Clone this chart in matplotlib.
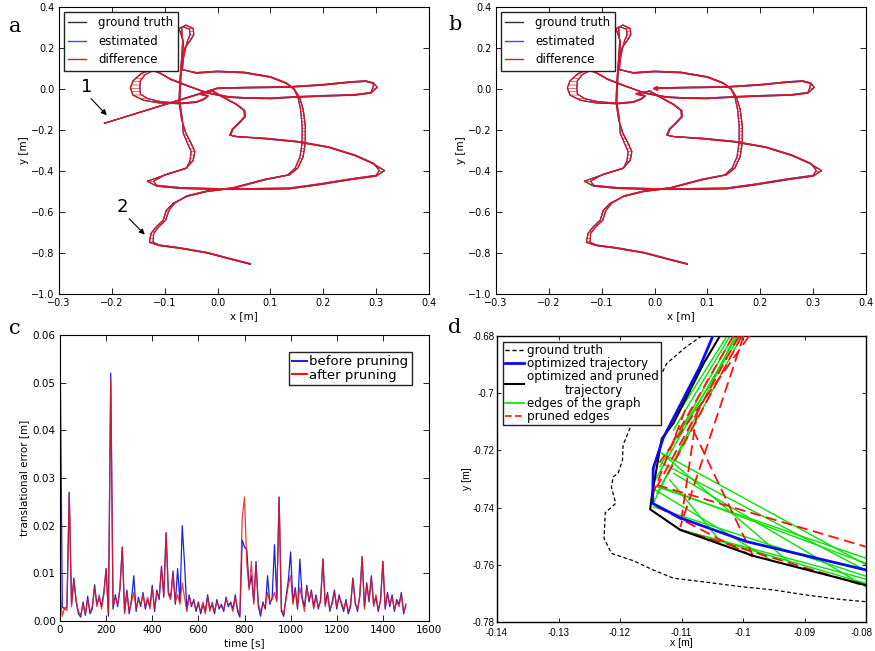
"""
Trajectoire estimee vs verite terrain, erreur de translation et detail de l'elagage du graphe.
Sortie : out.png
"""
import numpy as np
import matplotlib
matplotlib.use("Agg")
import matplotlib.pyplot as plt
import matplotlib.transforms as mtransforms
from matplotlib.patches import Polygon
from matplotlib.lines import Line2D

# %% donnees panneaux a/b : verite terrain (points de passage, m)
gt_x = [0.000, 0.050, 0.100, 0.140, 0.200, 0.250, 0.280, 0.295, 0.302,
        0.290, 0.260, 0.200, 0.150, 0.100, 0.050, 0.020, -0.020, -0.060, -0.090, -0.110, -0.125,
        -0.145, -0.160, -0.165, -0.160, -0.140, -0.110, -0.070, -0.040, -0.025, -0.018, -0.035,
        -0.010, 0.010, 0.035, 0.050, 0.051, 0.040, 0.028, 0.023, 0.035,
        0.090, 0.150, 0.210, 0.260, 0.295, 0.316,
        0.300, 0.250, 0.190, 0.136, 0.060, 0.000, -0.070, -0.115, -0.133,
        -0.100, -0.060, -0.046, -0.043, -0.050, -0.060, -0.068, -0.073, -0.071, -0.068, -0.066,
        -0.068, -0.060, -0.046, -0.045, -0.052, -0.062, -0.066, -0.068,
        -0.040, 0.000, 0.050, 0.100, 0.130, 0.145,
        0.155, 0.162, 0.166, 0.166, 0.162, 0.152, 0.136,
        0.090, 0.030, -0.020, -0.058, -0.084, -0.097, -0.103, -0.116, -0.126, -0.129,
        -0.110, -0.072, -0.020, 0.030, 0.062]
gt_y = [0.005, 0.008, 0.010, 0.012, 0.022, 0.035, 0.040, 0.030, 0.008,
        -0.020, -0.030, -0.035, -0.040, -0.047, -0.045, -0.040, -0.020, 0.020, 0.050, 0.080, 0.095,
        0.075, 0.040, 0.005, -0.030, -0.055, -0.068, -0.072, -0.065, -0.050, -0.035, -0.025,
        -0.010, -0.040, -0.075, -0.105, -0.135, -0.165, -0.195, -0.225, -0.232,
        -0.243, -0.258, -0.285, -0.325, -0.365, -0.398,
        -0.425, -0.443, -0.468, -0.487, -0.490, -0.490, -0.485, -0.474, -0.450,
        -0.420, -0.388, -0.348, -0.305, -0.265, -0.215, -0.150, -0.060, 0.050, 0.150, 0.230,
        0.300, 0.312, 0.295, 0.265, 0.235, 0.200, 0.150, 0.095,
        0.080, 0.087, 0.082, 0.060, 0.030, 0.000,
        -0.040, -0.100, -0.180, -0.260, -0.330, -0.385, -0.419,
        -0.443, -0.484, -0.500, -0.524, -0.557, -0.592, -0.640, -0.672, -0.705, -0.748,
        -0.764, -0.777, -0.800, -0.834, -0.855]
# ecart estime - verite (m)
est_dx = [0, 0, 0, 0, 0, 0, 0, 0, -0.008,
          0, 0, 0, 0, 0, 0, 0, 0, 0.0015, 0.0015, 0.0015, 0.003,
          0.008, 0.014, 0.018, 0.014, 0.008, 0.003, 0, 0, 0, 0, 0,
          0.0015, 0.0015, 0.0015, 0.0015, 0.0015, 0.0015, 0.0015, 0.0015, 0.0015,
          0, 0, 0, 0, 0, -0.010,
          0, 0, 0, 0, 0, 0, 0, 0, 0.012,
          0.0015, 0.0015, -0.006, -0.007, -0.007, -0.005, 0.0015, 0.0015, 0.0015, 0.0015, 0.0015,
          -0.005, -0.005, -0.007, -0.007, -0.005, 0.0015, 0.0015, 0.0015,
          0, 0, 0, 0, 0, 0,
          -0.003, -0.005, -0.006, -0.006, -0.006, -0.005, -0.003,
          0, 0, 0, 0, 0.003, 0.005, 0.005, 0.005, 0.005, 0.007,
          0, 0, 0, 0, 0]
est_dy = [-0.003, -0.003, -0.003, -0.003, -0.003, -0.003, -0.003, -0.003, 0,
          0.003, 0.003, 0.003, 0.003, 0.003, 0.003, 0.003, 0.003, -0.004, -0.004, -0.004, -0.005,
          -0.005, 0, 0, 0.005, 0.008, 0.006, 0.003, 0.003, 0.003, 0.003, 0.003,
          0, 0, 0, 0, 0, 0, 0, 0, 0,
          0.003, 0.003, 0.003, 0.003, 0.003, 0,
          0.004, 0.004, 0.004, 0.004, 0.004, 0.004, 0.004, 0.004, 0,
          0.003, 0.003, 0, 0, 0, 0, 0, 0, 0, 0, 0,
          -0.005, -0.008, -0.004, 0, 0, 0, 0, 0,
          -0.003, -0.003, -0.003, -0.003, -0.003, -0.003,
          0, 0, 0, 0, 0, 0, 0,
          0.003, 0.003, 0.003, 0.003, 0, 0, 0, 0, 0, 0,
          0.003, 0.003, 0.003, 0.003, 0.003]
outlier_start = (-0.214, -0.167)   # fausse fermeture de boucle (panneau a)

# %% donnees panneau c : erreur de translation (mm), un point toutes les 10 s
time_step_s = 10
err_before_mm = [61, 3.0, 2.5, 3.0, 27.0, 3.5, 9.0, 4.0, 1.5, 0.8,
                 4.0, 1.2, 5.2, 1.5, 2.5, 7.6, 3.5, 5.0, 3.0, 6.0,
                 11.0, 1.0, 52.0, 2.5, 5.5, 3.0, 7.0, 15.5, 2.0, 6.5,
                 1.5, 4.5, 9.5, 2.0, 5.0, 3.0, 6.0, 2.5, 4.5, 3.0,
                 7.5, 2.0, 6.5, 4.5, 11.5, 5.0, 18.5, 6.0, 5.0, 10.5,
                 3.5, 11.0, 4.0, 20.0, 12.0, 2.5, 5.5, 3.0, 4.5, 2.0,
                 4.0, 1.5, 3.5, 2.0, 5.5, 2.5, 3.5, 1.5, 4.5, 2.5,
                 3.5, 2.0, 5.0, 3.0, 4.0, 2.5, 5.5, 2.0, 0.8, 17.0,
                 15.5, 15.0, 7.0, 9.5, 4.0, 12.5, 3.0, 1.0, 4.0, 2.5,
                 9.5, 3.5, 5.0, 16.0, 4.5, 26.0, 2.0, 1.0, 5.0, 8.5,
                 14.5, 4.0, 7.0, 2.5, 13.0, 5.0, 3.0, 7.5, 4.0, 6.5,
                 3.0, 5.5, 2.5, 4.5, 13.0, 3.5, 6.0, 2.0, 4.0, 6.5,
                 2.5, 5.5, 3.5, 2.0, 4.5, 1.5, 3.0, 9.0, 4.0, 2.0,
                 5.5, 13.5, 3.0, 8.0, 4.0, 9.5, 3.5, 5.0, 2.0, 4.5,
                 12.5, 2.5, 6.0, 3.0, 5.5, 2.0, 4.5, 3.5, 6.0, 1.5,
                 3.5]
err_after_mm = [6.0, 1.0, 2.8, 2.2, 27.0, 3.0, 8.5, 4.5, 2.0, 1.2,
                3.5, 1.5, 4.5, 2.0, 3.0, 7.0, 3.0, 5.5, 2.5, 5.5,
                11.0, 1.5, 50.5, 3.0, 5.0, 3.5, 6.5, 15.5, 1.5, 6.0,
                2.0, 4.0, 6.0, 2.5, 4.5, 3.5, 5.5, 3.0, 5.0, 2.5,
                7.0, 2.5, 6.0, 5.0, 11.0, 5.5, 18.5, 5.5, 4.5, 10.0,
                4.0, 5.5, 3.5, 8.0, 5.0, 2.0, 5.0, 3.5, 4.0, 2.5,
                3.5, 2.0, 4.0, 1.5, 5.0, 2.0, 4.0, 2.0, 4.0, 3.0,
                3.0, 2.5, 4.5, 3.5, 3.5, 2.0, 5.0, 2.5, 1.5, 21.5,
                26.0, 12.0, 6.5, 12.5, 3.5, 11.5, 3.5, 2.0, 3.5, 3.0,
                6.0, 4.0, 4.5, 6.0, 4.0, 26.0, 2.5, 1.5, 4.5, 7.5,
                9.5, 3.5, 6.5, 3.0, 7.0, 4.5, 2.0, 7.0, 4.5, 6.0,
                2.5, 5.0, 3.0, 4.0, 13.0, 3.0, 5.5, 2.5, 3.5, 6.0,
                3.0, 5.0, 4.0, 2.5, 4.0, 2.0, 3.5, 9.0, 3.5, 2.5,
                5.0, 13.5, 2.5, 7.5, 4.5, 9.0, 3.0, 5.5, 2.5, 4.0,
                12.5, 3.0, 5.5, 3.5, 5.0, 2.5, 4.0, 3.0, 5.5, 2.0,
                3.0]

# %% donnees panneau d : zoom sur le coin "2"
truth_d_x = [-0.1040, -0.1067, -0.1092, -0.1124, -0.1132, -0.1168, -0.1176, -0.1195, -0.1196,
             -0.1203, -0.1211, -0.1214, -0.1207, -0.1224, -0.1225, -0.1226, -0.1214, -0.1178,
             -0.1146, -0.1113, -0.1059, -0.1005, -0.0950, -0.0896, -0.0842, -0.0800, -0.0780]
truth_d_y = [-0.6770, -0.6800, -0.6837, -0.6896, -0.6931, -0.7047, -0.7082, -0.7181, -0.7234,
             -0.7280, -0.7292, -0.7327, -0.7385, -0.7418, -0.7467, -0.7507, -0.7560, -0.7586,
             -0.7618, -0.7647, -0.7661, -0.7676, -0.7688, -0.7706, -0.7721, -0.7729, -0.7732]
opt_d_x = [-0.1045, -0.1070, -0.1130, -0.1146, -0.1147, -0.1102, -0.0994, -0.0800, -0.0780]
opt_d_y = [-0.6780, -0.6907, -0.7158, -0.7263, -0.7385, -0.7436, -0.7519, -0.7618, -0.7625]
pruned_d_x = [-0.1032, -0.1064, -0.1113, -0.1132, -0.1148, -0.1151, -0.1102, -0.0983, -0.0800, -0.0780]
pruned_d_y = [-0.6780, -0.6896, -0.7105, -0.7158, -0.7356, -0.7406, -0.7478, -0.7569, -0.7671, -0.7680]
graph_edges = [((-0.1002, -0.680), (-0.1140, -0.7350)), ((-0.1010, -0.680), (-0.1143, -0.7304)),
               ((-0.1016, -0.680), (-0.1135, -0.7257)), ((-0.1021, -0.680), (-0.1113, -0.7129)),
               ((-0.1026, -0.680), (-0.1102, -0.7059)), ((-0.1005, -0.680), (-0.1124, -0.7210)),
               ((-0.1013, -0.680), (-0.1146, -0.7385)),
               ((-0.1132, -0.7210), (-0.0800, -0.7600)), ((-0.1140, -0.7327), (-0.0800, -0.7577)),
               ((-0.1143, -0.7338), (-0.0950, -0.7590)), ((-0.1119, -0.7303), (-0.1043, -0.7502)),
               ((-0.1113, -0.7280), (-0.0800, -0.7677)), ((-0.1104, -0.7476), (-0.0800, -0.7650)),
               ((-0.1146, -0.7397), (-0.0800, -0.7640)), ((-0.1140, -0.7235), (-0.0800, -0.7620)),
               ((-0.1104, -0.7476), (-0.0800, -0.7665)), ((-0.1130, -0.7330), (-0.0800, -0.7595)),
               ((-0.1132, -0.7210), (-0.0920, -0.7600))]
cut_edges = [((-0.1140, -0.7321), (-0.0800, -0.7537)), ((-0.1081, -0.7129), (-0.0983, -0.7572)),
             ((-0.0999, -0.680), (-0.1102, -0.7467)), ((-0.1007, -0.680), (-0.1140, -0.7327)),
             ((-0.1016, -0.680), (-0.1113, -0.7164)), ((-0.1094, -0.7059), (-0.1146, -0.7350)),
             ((-0.1140, -0.7397), (-0.0983, -0.7572)), ((-0.1104, -0.7476), (-0.0800, -0.7675)),
             ((-0.1075, -0.7070), (-0.1102, -0.7467)), ((-0.1002, -0.680), (-0.1124, -0.7290)),
             ((-0.0990, -0.680), (-0.1135, -0.7240))]

W, H = 875, 651
fig = plt.figure(figsize=(W / 100, H / 100), dpi=100)
plt.rcParams["hatch.linewidth"] = 0.5
NARROW = ["Liberation Sans Narrow", "Liberation Sans"]


def axes_px(left, top, right, bottom):
    return fig.add_axes([left / W, 1 - bottom / H, (right - left) / W, (bottom - top) / H])


def classic_ticks(ax, size=7):
    ax.tick_params(direction="in", top=True, right=True, length=4, width=0.6, labelsize=size, pad=3)
    for s in ax.spines.values():
        s.set_linewidth(0.8)


def draw_trajectory(ax, gx, gy, ex, ey):
    ax.plot(gx, gy, color="#222222", lw=0.9, zorder=2)
    ax.plot(ex, ey, color="#2b2bd6", lw=0.9, zorder=3)
    band = np.column_stack([np.r_[gx, ex[::-1]], np.r_[gy, ey[::-1]]])
    ax.add_patch(Polygon(band, closed=True, facecolor="none", edgecolor="#e8141e",
                         hatch="-----", lw=0.8, alpha=0.9, zorder=4))
    ax.set_xlim(-0.3, 0.4)
    ax.set_ylim(-1.0, 0.4)
    ax.set_xticks(np.arange(-0.3, 0.41, 0.1))
    ax.set_yticks(np.arange(-1.0, 0.41, 0.2))
    ax.set_xlabel("x [m]", fontsize=7.5, labelpad=2)
    ax.set_ylabel("y [m]", fontsize=7.5, labelpad=2)
    classic_ticks(ax)
    handles = [Line2D([], [], color="#333333", lw=1), Line2D([], [], color="#4a4ad0", lw=1),
               Line2D([], [], color="#e02020", lw=1)]
    ax.legend(handles, ["ground truth", "estimated", "difference"], loc="upper left",
              fontsize=8.5, fancybox=False, framealpha=1, edgecolor="#222222",
              handlelength=1.5, handletextpad=1.0, borderaxespad=0.4, labelspacing=0.45)


gx = np.array(gt_x)
gy = np.array(gt_y)
ex = gx + np.array(est_dx)
ey = gy + np.array(est_dy)

# %% panneau a
ax_a = axes_px(59, 7, 429, 294)
draw_trajectory(ax_a, np.r_[outlier_start[0], gx], np.r_[outlier_start[1], gy],
                np.r_[outlier_start[0], ex], np.r_[outlier_start[1], ey])
ax_a.text(-0.247, 0.009, "1", fontsize=13, ha="center", va="center")
ax_a.text(-0.180, -0.577, "2", fontsize=13, ha="center", va="center")
arrow = dict(arrowstyle="-|>", color="k", lw=0.8, mutation_scale=8)
ax_a.annotate("", xy=(-0.206, -0.138), xytext=(-0.243, -0.037), arrowprops=arrow)
ax_a.annotate("", xy=(-0.134, -0.720), xytext=(-0.171, -0.623), arrowprops=arrow)

# %% panneau b
ax_b = axes_px(496, 7, 866, 294)
draw_trajectory(ax_b, gx, gy, ex, ey)
ax_b.plot(gx[0], gy[0], marker="<", ms=3, color="#e8141e", zorder=5)

# %% panneau c
ax_c = axes_px(60, 335, 429, 621)
t = np.arange(len(err_before_mm)) * time_step_s
ax_c.plot(t, np.array(err_before_mm) / 1000, color="#1f1fe0", lw=0.9, label="before pruning")
ax_c.plot(t, np.array(err_after_mm) / 1000, color="#e81818", lw=0.9, alpha=0.85, label="after pruning")
ax_c.set_xlim(0, 1600)
ax_c.set_ylim(0, 0.06)
ax_c.set_yticks(np.arange(0, 0.061, 0.01))
ax_c.set_yticklabels([f"{v:.2f}" for v in np.arange(0, 0.061, 0.01)])
ax_c.set_xlabel("time [s]", fontsize=7.5, labelpad=2)
ax_c.set_ylabel("translational error [m]", fontsize=7.5, labelpad=3)
classic_ticks(ax_c, size=7.5)
leg = ax_c.legend(loc="upper right", fontsize=9.5, fancybox=False, framealpha=1, edgecolor="#222222",
                  handlelength=1.1, handletextpad=0.2, labelspacing=0.05, borderpad=0.25,
                  borderaxespad=1.3)
for line in leg.get_lines():
    line.set_linewidth(1.5)
    line.set_alpha(1)

# %% panneau d
ax_d = axes_px(497, 336, 866, 622)
ax_d.plot(truth_d_x, truth_d_y, color="k", lw=0.9, dashes=(3, 2), label="ground truth")
for (x0, y0), (x1, y1) in graph_edges:
    ax_d.plot([x0, x1], [y0, y1], color="#00e600", lw=1.0, zorder=2)
for (x0, y0), (x1, y1) in cut_edges:
    ax_d.plot([x0, x1], [y0, y1], color="#ff1010", lw=1.3, dashes=(6, 3), zorder=3)
ax_d.plot(pruned_d_x, pruned_d_y, color="k", lw=1.5, zorder=4)
ax_d.plot(opt_d_x, opt_d_y, color="#0b0bf0", lw=2.0, zorder=5)
ax_d.set_xlim(-0.14, -0.08)
ax_d.set_ylim(-0.78, -0.68)
ax_d.set_xticks(np.arange(-0.14, -0.0795, 0.01))
ax_d.set_xticklabels(["-0.14", "-0.13", "-0.12", "-0.11", "-0.1", "-0.09", "-0.08"])
ax_d.set_yticks(np.arange(-0.78, -0.6795, 0.02))
ax_d.set_yticklabels(["-0.78", "-0.76", "-0.74", "-0.72", "-0.7", "-0.68"])
ax_d.tick_params(direction="in", top=True, right=True, length=3, width=0.6, labelsize=7)
ax_d.tick_params(axis="x", pad=4)
ax_d.tick_params(axis="y", pad=2)
for lab in ax_d.get_xticklabels() + ax_d.get_yticklabels():
    lab.set_family(NARROW)
# le dernier libelle touche le bord droit : on le cale a droite
last = ax_d.get_xticklabels()[-1]
last.set_horizontalalignment("right")
last.set_transform(last.get_transform() + mtransforms.ScaledTranslation(7 / 100, 0, fig.dpi_scale_trans))
for s in ax_d.spines.values():
    s.set_linewidth(1.0)
ax_d.set_xlabel("x [m]", fontsize=7.5, labelpad=0, family=NARROW)
ax_d.set_ylabel("y [m]", fontsize=7.5, labelpad=0, family=NARROW)
d_handles = [Line2D([], [], color="k", lw=1, dashes=(3, 2)), Line2D([], [], color="#0b0bf0", lw=2),
             Line2D([], [], color="k", lw=1.5), Line2D([], [], color="#00e600", lw=1.2),
             Line2D([], [], color="#ff1010", lw=1.2, dashes=(4, 2))]
leg_d = ax_d.legend(d_handles, ["ground truth", "optimized trajectory", "optimized and pruned\ntrajectory",
                                "edges of the graph", "pruned edges"],
                    loc="upper left", fontsize=8.6, fancybox=False, framealpha=1, edgecolor="#222222",
                    handlelength=1.6, handletextpad=0.3, labelspacing=0.0, borderpad=0.15,
                    borderaxespad=0.5)
for txt in leg_d.get_texts():
    txt.set_multialignment("center")
    txt.set_linespacing(1.1)

# %% lettres des panneaux
for letter, (px, py) in {"a": (15, 27), "b": (455, 25), "c": (15, 328), "d": (455, 327)}.items():
    fig.text(px / W, 1 - py / H, letter, fontsize=15, family="DejaVu Serif", ha="center", va="center")

fig.savefig("out.png", dpi=100)
